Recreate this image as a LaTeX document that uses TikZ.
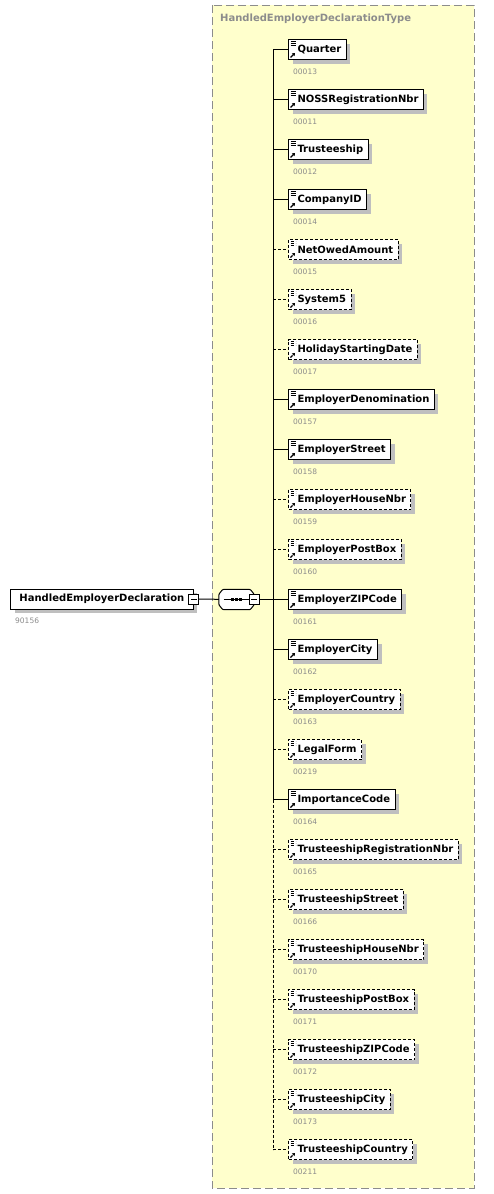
\documentclass[tikz,border=0pt]{standalone}
\usepackage{fontspec}
\setmainfont{DejaVu Sans}
\usetikzlibrary{shadows,arrows.meta}
\definecolor{typebg}{RGB}{255,255,204}
\definecolor{numgray}{RGB}{140,140,140}
\definecolor{typeline}{RGB}{140,140,140}
\tikzset{
  box/.style={draw, fill=white, line width=1pt, minimum height=20pt, inner ysep=0pt, inner xsep=5pt,
    anchor=west, font=\bfseries\fontsize{10}{12}\selectfont,
    general shadow={fill=black!25, shadow xshift=4pt, shadow yshift=-4pt}},
  icon/.style={path picture={
    \draw[line width=0.6pt] ([xshift=2pt,yshift=-2pt]path picture bounding box.north west) -- ++(5pt,0pt)
      ([xshift=2pt,yshift=-4pt]path picture bounding box.north west) -- ++(5pt,0pt)
      ([xshift=2pt,yshift=-6pt]path picture bounding box.north west) -- ++(5pt,0pt);
    \draw[line width=1.2pt, -{Triangle[length=2.5pt,width=3.5pt]}]
      ([xshift=2pt,yshift=2pt]path picture bounding box.south west) -- ++(4.5pt,4.5pt);}},
  req/.style={box, icon},
  opt/.style={box, icon, dash pattern=on 3pt off 2pt},
  req line/.style={line width=1pt},
  opt line/.style={line width=1pt, dash pattern=on 3pt off 2pt},
  num/.style={anchor=west, inner sep=0pt, text=numgray, font=\fontsize{7.5}{9}\selectfont},
  minus/.style={draw, fill=white, line width=0.8pt, minimum size=10pt, inner sep=0pt, path picture={
    \draw[line width=0.8pt] ([xshift=2pt]path picture bounding box.west) -- ([xshift=-2pt]path picture bounding box.east);}},
  seqbox/.style={inner sep=0pt, minimum width=35pt, minimum height=20pt},
}
\begin{document}
\begin{tikzpicture}[x=1pt,y=-1pt]
\useasboundingbox (0,0) rectangle (493,1194);

% complex type container
\draw[typeline, line width=1pt, dash pattern=on 8pt off 4pt, fill=typebg] (212,5) rectangle (474,1188);
\node[anchor=west, inner sep=0pt, text=typeline, font=\bfseries\fontsize{10}{12}\selectfont] (title) at (220,19) {HandledEmployerDeclarationType};

% root element
\node[box, inner xsep=9pt] (root) at (10,599) {HandledEmployerDeclaration};
\node[num] (rootnum) at (15,621) {90156};
\node[minus] (rootminus) at (root.east) {};

% sequence compositor
\node[seqbox] (seq) at (236.5,599.5) {};
\fill[black!25, shift={(4pt,-4pt)}] ([xshift=4pt]seq.north west) -- ([xshift=-4pt]seq.north east) -- ([yshift=-5pt]seq.north east)
  -- ([yshift=5pt]seq.south east) -- ([xshift=-4pt]seq.south east) -- ([xshift=4pt]seq.south west)
  -- ([yshift=5pt]seq.south west) -- ([yshift=-5pt]seq.north west) -- cycle;
\filldraw[fill=white, line width=1pt, rounded corners=1pt] ([xshift=4pt]seq.north west) -- ([xshift=-4pt]seq.north east) -- ([yshift=-5pt]seq.north east)
  -- ([yshift=5pt]seq.south east) -- ([xshift=-4pt]seq.south east) -- ([xshift=4pt]seq.south west)
  -- ([yshift=5pt]seq.south west) -- ([yshift=-5pt]seq.north west) -- cycle;
\draw[line width=1pt] ([xshift=-13pt]seq.center) -- ([xshift=13pt]seq.center);
\foreach \d in {-4,0,4} \fill ([xshift=\d pt]seq.center) ++(-1.5pt,-1.5pt) rectangle ++(3pt,3pt);
\node[minus] (seqminus) at (seq.east) {};
\coordinate (trunk) at (273,0);

\draw[req line] (rootminus) -- (seq);
\draw[req line] (seqminus) -- (seqminus -| trunk);

% children
\foreach \n/\name/\code/\kind in {
  1/Quarter/00013/req, 2/NOSSRegistrationNbr/00011/req, 3/Trusteeship/00012/req,
  4/CompanyID/00014/req, 5/NetOwedAmount/00015/opt, 6/System5/00016/opt,
  7/HolidayStartingDate/00017/opt, 8/EmployerDenomination/00157/req,
  9/EmployerStreet/00158/req, 10/EmployerHouseNbr/00159/opt, 11/EmployerPostBox/00160/opt,
  12/EmployerZIPCode/00161/req, 13/EmployerCity/00162/req, 14/EmployerCountry/00163/opt,
  15/LegalForm/00219/opt, 16/ImportanceCode/00164/req,
  17/TrusteeshipRegistrationNbr/00165/opt, 18/TrusteeshipStreet/00166/opt,
  19/TrusteeshipHouseNbr/00170/opt, 20/TrusteeshipPostBox/00171/opt,
  21/TrusteeshipZIPCode/00172/opt, 22/TrusteeshipCity/00173/opt, 23/TrusteeshipCountry/00211/opt}
{
  \node[\kind] (e\n) at (288,{50*\n-0.5}) {\hspace*{4pt}\name};
  \node[num] (n\n) at (293,{50*\n+22}) {\code};
  \draw[\kind\space line] (e\n.west -| trunk) -- (e\n.west);
}

\draw[req line] (e1.west -| trunk) -- (e16.west -| trunk);
\draw[opt line] (e16.west -| trunk) -- (e23.west -| trunk);
\end{tikzpicture}
\end{document}
